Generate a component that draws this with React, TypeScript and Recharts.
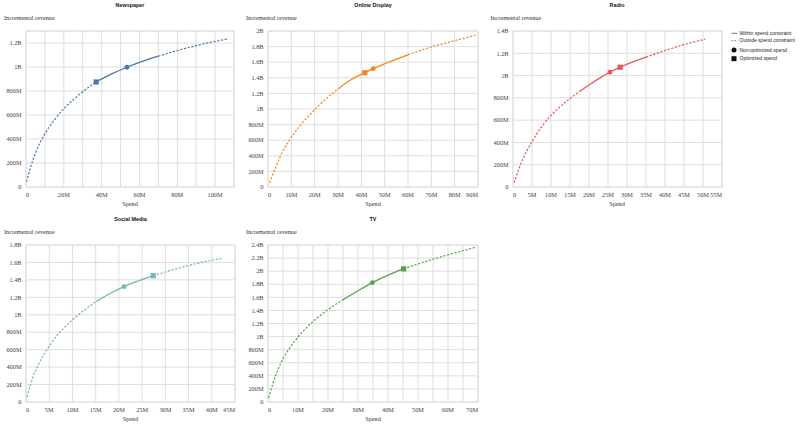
import React from 'react'
import { ComposedChart, Line, Scatter, XAxis, YAxis, CartesianGrid, ReferenceArea } from 'recharts'

// spend and incremental revenue are both in $M

const newspaperSpend = [0.3, 2.6, 5.2, 9.7, 15.1, 20.1, 25.8, 31.1, 37.1, 45, 53.4, 60, 70, 80, 90, 100, 106.5]
const newspaperRevenue = [44, 175, 290, 435, 560, 655, 738, 808, 875, 940, 998, 1038, 1090, 1137, 1178, 1213, 1233]
const newspaperWithin = [37.1, 70]
const newspaperCurrent = [53.4, 998]
const newspaperOptimized = [37.1, 875]

const onlineSpend = [0.7, 3.2, 6.0, 10.3, 15.3, 20.3, 25.4, 30.3, 35.4, 41.5, 45.1, 50, 60, 70, 80, 89.5]
const onlineRevenue = [55, 247, 440, 650, 840, 1000, 1145, 1264, 1372, 1465, 1517, 1580, 1695, 1795, 1876, 1949]
const onlineWithin = [30.3, 60]
const onlineCurrent = [45.1, 1517]
const onlineOptimized = [41.5, 1465]

const radioSpend = [0.3, 2.0, 5.1, 7.8, 10.1, 12.6, 15.0, 17.6, 20.1, 22.7, 25.5, 28.2, 35, 40, 45, 50.6]
const radioRevenue = [39, 203, 413, 553, 646, 726, 795, 860, 918, 975, 1030, 1075, 1165, 1225, 1278, 1327]
const radioWithin = [17.6, 35]
const radioCurrent = [25.5, 1030]
const radioOptimized = [28.2, 1075]

const socialSpend = [0.2, 1.3, 2.7, 5.1, 7.3, 10.0, 12.7, 15.0, 17.7, 21.1, 27.4, 30, 35, 40, 42.0]
const socialRevenue = [58, 256, 429, 648, 800, 940, 1061, 1149, 1233, 1322, 1448, 1490, 1565, 1625, 1645]
const socialWithin = [15.0, 27.4]
const socialCurrent = [21.1, 1322]
const socialOptimized = [27.4, 1448]

const tvSpend = [0.2, 1.7, 3.3, 5.0, 7.2, 10.0, 12.4, 15.0, 17.5, 20.0, 25.0, 30.0, 34.8, 40, 45.2, 50, 55, 60, 65, 69.5]
const tvRevenue = [61, 290, 493, 661, 824, 992, 1115, 1231, 1325, 1413, 1563, 1700, 1825, 1940, 2035, 2110, 2183, 2250, 2313, 2368]
const tvWithin = [25.0, 45.2]
const tvCurrent = [34.8, 1825]
const tvOptimized = [45.2, 2035]

const newspaperXTicks = [0, 10, 20, 30, 40, 50, 60, 70, 80, 90, 100, 110]
const onlineXTicks = [0, 10, 20, 30, 40, 50, 60, 70, 80, 90]
const radioXTicks = [0, 5, 10, 15, 20, 25, 30, 35, 40, 45, 50, 55]
const socialXTicks = [0, 5, 10, 15, 20, 25, 30, 35, 40, 45]
const tvXTicks = [0, 5, 10, 15, 20, 25, 30, 35, 40, 45, 50, 55, 60, 65, 70]

const newspaperYTicks = [0, 200, 400, 600, 800, 1000, 1200]
const onlineYTicks = [0, 200, 400, 600, 800, 1000, 1200, 1400, 1600, 1800, 2000]
const radioYTicks = [0, 200, 400, 600, 800, 1000, 1200, 1400]
const socialYTicks = [0, 200, 400, 600, 800, 1000, 1200, 1400, 1600, 1800]
const tvYTicks = [0, 200, 400, 600, 800, 1000, 1200, 1400, 1600, 1800, 2000, 2200, 2400]

const SERIF = '"Liberation Serif", "Times New Roman", serif'
const SANS = '"Liberation Sans", Arial, sans-serif'
const TICK_COLOR = '#444'
const GRID = '#dedede'
const DASH = '2.2 1.6'

const Y_W = 30
const PAD_T = 6
const PAD_R = 6
const X_H = 14

const panels = [
  { name: 'Newspaper', color: '#4c78a8', spend: newspaperSpend, revenue: newspaperRevenue, within: newspaperWithin, current: newspaperCurrent, optimized: newspaperOptimized, xTicks: newspaperXTicks, labelEvery: 20, xMax: 110, yTicks: newspaperYTicks, yMax: 1300, left: 26, top: 31, w: 208, h: 156 },
  { name: 'Online Display', color: '#f58518', spend: onlineSpend, revenue: onlineRevenue, within: onlineWithin, current: onlineCurrent, optimized: onlineOptimized, xTicks: onlineXTicks, labelEvery: 10, xMax: 90, yTicks: onlineYTicks, yMax: 2000, left: 268, top: 31, w: 210, h: 156 },
  { name: 'Radio', color: '#e45756', spend: radioSpend, revenue: radioRevenue, within: radioWithin, current: radioCurrent, optimized: radioOptimized, xTicks: radioXTicks, labelEvery: 5, xMax: 55, yTicks: radioYTicks, yMax: 1400, left: 512.5, top: 31, w: 209, h: 156 },
  { name: 'Social Media', color: '#72b7b2', spend: socialSpend, revenue: socialRevenue, within: socialWithin, current: socialCurrent, optimized: socialOptimized, xTicks: socialXTicks, labelEvery: 5, xMax: 45, yTicks: socialYTicks, yMax: 1800, left: 26, top: 245, w: 209, h: 157 },
  { name: 'TV', color: '#54a24b', spend: tvSpend, revenue: tvRevenue, within: tvWithin, current: tvCurrent, optimized: tvOptimized, xTicks: tvXTicks, labelEvery: 10, xMax: 70, yTicks: tvYTicks, yMax: 2400, left: 268, top: 245, w: 210, h: 157 },
]

type PanelDef = typeof panels[number]

const fmtSpend = (v: number) => (v === 0 ? '0' : `${v}M`)
const fmtRevenue = (v: number) => {
  if (v === 0) return '0'
  if (v >= 1000) return `${+(v / 1000).toFixed(1)}B`
  return `${v}M`
}

function Panel({ p }: { p: PanelDef }) {
  const data = p.spend.map((s, i) => ({ spend: s, revenue: p.revenue[i] }))
  const before = data.filter(d => d.spend <= p.within[0])
  const inside = data.filter(d => d.spend >= p.within[0] && d.spend <= p.within[1])
  const after = data.filter(d => d.spend >= p.within[1])

  const xTick = (props: any) => {
    const { x, y, payload } = props
    const v = payload.value
    if (v % p.labelEvery !== 0) return <g />
    let anchor = 'middle'
    if (v === 0) anchor = 'start'
    else if (v === p.xMax) anchor = 'end'
    return (
      <text x={x} y={y} dy="0.71em" textAnchor={anchor} fontSize={6.3} fontFamily={SERIF} fill={TICK_COLOR}>
        {fmtSpend(v)}
      </text>
    )
  }

  const circle = (props: any) => <circle cx={props.cx} cy={props.cy} r={2.4} fill={p.color} />
  const square = (props: any) => <rect x={props.cx - 2.6} y={props.cy - 2.6} width={5.2} height={5.2} fill={p.color} />

  const label: React.CSSProperties = { position: 'absolute', fontFamily: SERIF, fontSize: 6.2, lineHeight: '7px', color: '#333', whiteSpace: 'nowrap' }

  return (
    <>
      <div style={{ position: 'absolute', left: p.left, width: p.w, top: p.top - 29, textAlign: 'center', fontFamily: SANS, fontSize: 5.4, fontWeight: 'bold', lineHeight: '6px', color: '#111' }}>
        {p.name}
      </div>
      <div style={{ ...label, left: p.left - 22, top: p.top - 17.5 }}>Incremental revenue</div>
      <div style={{ ...label, left: p.left, width: p.w, textAlign: 'center', top: p.top + p.h + 13 }}>Spend</div>
      <div style={{ position: 'absolute', left: p.left - Y_W, top: p.top - PAD_T }}>
        <ComposedChart
          width={Y_W + p.w + PAD_R}
          height={PAD_T + p.h + X_H}
          margin={{ top: PAD_T, right: PAD_R, bottom: 0, left: 0 }}
        >
          <CartesianGrid stroke={GRID} strokeWidth={1} />
          <ReferenceArea x1={0} x2={p.xMax} y1={0} y2={p.yMax} fill="none" fillOpacity={0} stroke={GRID} strokeOpacity={1} />
          <XAxis
            type="number"
            dataKey="spend"
            domain={[0, p.xMax]}
            ticks={p.xTicks}
            interval={0}
            allowDataOverflow
            axisLine={false}
            tickLine={false}
            tickSize={0}
            tickMargin={5.5}
            height={X_H}
            tick={xTick}
          />
          <YAxis
            type="number"
            dataKey="revenue"
            domain={[0, p.yMax]}
            ticks={p.yTicks}
            interval={0}
            allowDataOverflow
            axisLine={false}
            tickLine={false}
            tickSize={0}
            tickMargin={4.5}
            width={Y_W}
            tickFormatter={fmtRevenue}
            tick={{ fontSize: 6.3, fontFamily: SERIF, fill: TICK_COLOR }}
          />
          <Line data={before} dataKey="revenue" type="monotone" stroke={p.color} strokeWidth={1.2} strokeDasharray={DASH} dot={false} activeDot={false} isAnimationActive={false} />
          <Line data={after} dataKey="revenue" type="monotone" stroke={p.color} strokeWidth={1.2} strokeDasharray={DASH} dot={false} activeDot={false} isAnimationActive={false} />
          <Line data={inside} dataKey="revenue" type="monotone" stroke={p.color} strokeWidth={1.3} dot={false} activeDot={false} isAnimationActive={false} />
          <Scatter data={[{ spend: p.current[0], revenue: p.current[1] }]} dataKey="revenue" shape={circle} isAnimationActive={false} />
          <Scatter data={[{ spend: p.optimized[0], revenue: p.optimized[1] }]} dataKey="revenue" shape={square} isAnimationActive={false} />
        </ComposedChart>
      </div>
    </>
  )
}

function Legend() {
  const text = { fontFamily: SANS, fontSize: 5.0, fill: '#222' }
  return (
    <svg width={78} height={45} style={{ position: 'absolute', left: 722, top: 25 }}>
      <line x1={9.5} x2={15.5} y1={8.3} y2={8.3} stroke="#777" strokeWidth={1} />
      <text x={17.5} y={8.3} dy="0.35em" {...text}>Within spend constraint</text>
      <line x1={9.5} x2={15.5} y1={15.7} y2={15.7} stroke="#777" strokeWidth={1} strokeDasharray="1.6 1.2" />
      <text x={17.5} y={15.7} dy="0.35em" {...text}>Outside spend constraint</text>
      <circle cx={12} cy={25} r={2.5} fill="#111" />
      <text x={17.5} y={25} dy="0.35em" {...text}>Non-optimized spend</text>
      <rect x={9.5} y={31.2} width={5} height={5} fill="#111" />
      <text x={17.5} y={33.7} dy="0.35em" {...text}>Optimized spend</text>
    </svg>
  )
}

export default function App() {
  return (
    <div style={{ position: 'absolute', left: 0, top: 0, width: 800, height: 424, background: '#fff', overflow: 'hidden' }}>
      {panels.map(p => (
        <Panel key={p.name} p={p} />
      ))}
      <Legend />
    </div>
  )
}
